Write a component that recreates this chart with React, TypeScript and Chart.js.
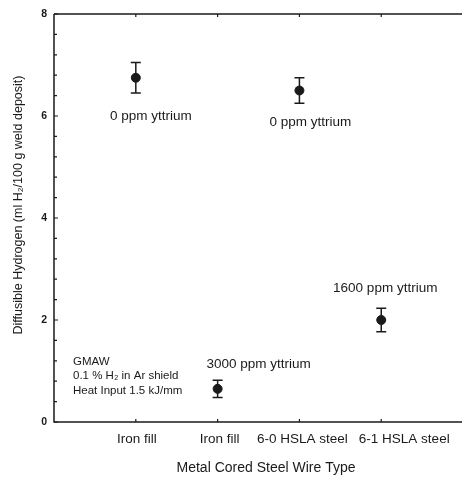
import { useEffect, useRef } from "react";
import { Chart, registerables } from "chart.js";

Chart.register(...registerables);

// ---- data ----
const categories = ["Iron fill", "Iron fill", "6-0 HSLA steel", "6-1 HSLA steel"];
const hydrogen = [6.75, 0.65, 6.5, 2.0];
const hydrogenError = [0.3, 0.17, 0.25, 0.23];
const pointLabels = ["0 ppm yttrium", "3000 ppm yttrium", "0 ppm yttrium", "1600 ppm yttrium"];
const yTicks = [0, 2, 4, 6, 8];
const yMinorStep = 0.4;
const noteLines = ["GMAW", "0.1 % H\u2082 in Ar shield", "Heat Input 1.5 kJ/mm"];
const yTitle = "Diffusible Hydrogen (ml H\u2082/100 g weld deposit)";
const xTitle = "Metal Cored Steel Wire Type";
const X_MIN = 0;
const X_MAX = 4.92;

// ---- styles ----
const FONT = '"Liberation Sans", Arial, Helvetica, sans-serif';
const INK = "#1a1a1a";
const labelOffsets = [
  [15, 39],
  [41, -25],
  [11, 32],
  [4, -32],
];
const catLabelShift = [1, 2, 3, 23];

const decorPlugin = {
  id: "decor",
  beforeDatasetsDraw(chart: any) {
    const { ctx, chartArea, scales } = chart;
    const xs = scales.x;
    const ys = scales.y;
    ctx.save();
    ctx.strokeStyle = INK;
    ctx.lineWidth = 1.5;
    // frame
    ctx.beginPath();
    ctx.moveTo(chartArea.left, chartArea.top);
    ctx.lineTo(chartArea.left, chartArea.bottom);
    ctx.lineTo(chart.width, chartArea.bottom);
    ctx.moveTo(chartArea.left, chartArea.top);
    ctx.lineTo(chart.width, chartArea.top);
    ctx.stroke();
    // y ticks (inside)
    ctx.lineWidth = 1.2;
    ctx.beginPath();
    const n = Math.round((ys.max - ys.min) / yMinorStep);
    for (let i = 0; i <= n; i++) {
      const v = ys.min + i * yMinorStep;
      const py = ys.getPixelForValue(v);
      ctx.moveTo(chartArea.left, py);
      ctx.lineTo(chartArea.left + 3, py);
    }
    yTicks.forEach((v) => {
      const py = ys.getPixelForValue(v);
      ctx.moveTo(chartArea.left, py);
      ctx.lineTo(chartArea.left + 4, py);
    });
    // x ticks top and bottom (inside)
    categories.forEach((_, i) => {
      const px = xs.getPixelForValue(i + 1);
      ctx.moveTo(px, chartArea.bottom);
      ctx.lineTo(px, chartArea.bottom - 3);
      ctx.moveTo(px, chartArea.top);
      ctx.lineTo(px, chartArea.top + 3);
    });
    ctx.stroke();

    // error bars
    ctx.lineWidth = 1.5;
    ctx.beginPath();
    hydrogen.forEach((v, i) => {
      const px = xs.getPixelForValue(i + 1);
      const top = ys.getPixelForValue(v + hydrogenError[i]);
      const bot = ys.getPixelForValue(v - hydrogenError[i]);
      ctx.moveTo(px, top);
      ctx.lineTo(px, bot);
      ctx.moveTo(px - 5, top);
      ctx.lineTo(px + 5, top);
      ctx.moveTo(px - 5, bot);
      ctx.lineTo(px + 5, bot);
    });
    ctx.stroke();
    ctx.restore();
  },
  afterDraw(chart: any) {
    const { ctx, chartArea, scales } = chart;
    const xs = scales.x;
    const ys = scales.y;
    ctx.save();
    ctx.fillStyle = INK;
    ctx.textBaseline = "middle";
    ctx.textAlign = "center";
    // category labels
    ctx.font = `13.5px ${FONT}`;
    categories.forEach((t, i) => {
      ctx.fillText(t, xs.getPixelForValue(i + 1) + catLabelShift[i], chartArea.bottom + 17);
    });
    // point labels
    pointLabels.forEach((t, i) => {
      const px = xs.getPixelForValue(i + 1) + labelOffsets[i][0];
      const py = ys.getPixelForValue(hydrogen[i]) + labelOffsets[i][1];
      ctx.fillText(t, px, py);
    });
    // x title
    ctx.font = `14px ${FONT}`;
    ctx.fillText(xTitle, chartArea.left + 212, chartArea.bottom + 46);
    // note
    ctx.textAlign = "left";
    ctx.font = `11.5px ${FONT}`;
    const noteY = [-60, -46, -31];
    noteLines.forEach((t, i) => {
      ctx.fillText(t, chartArea.left + 19, chartArea.bottom + noteY[i]);
    });
    // y title
    ctx.translate(19, 205);
    ctx.rotate(-Math.PI / 2);
    ctx.textAlign = "center";
    ctx.font = `12.5px ${FONT}`;
    ctx.fillText(yTitle, 0, 0);
    ctx.restore();
  },
};

export default function App() {
  const ref = useRef<HTMLCanvasElement>(null);
  useEffect(() => {
    if (!ref.current) return;
    const chart = new Chart(ref.current, {
      type: "scatter",
      data: {
        datasets: [
          {
            data: hydrogen.map((v, i) => ({ x: i + 1, y: v })),
            backgroundColor: INK,
            borderColor: INK,
            pointRadius: 4.5,
            pointHoverRadius: 4.5,
            showLine: false,
          },
        ],
      },
      options: {
        animation: false,
        responsive: false,
        devicePixelRatio: 1,
        layout: { padding: { top: 14, left: 0, right: 0, bottom: 0 } },
        plugins: { legend: { display: false }, tooltip: { enabled: false } },
        scales: {
          x: {
            type: "linear",
            min: X_MIN,
            max: X_MAX,
            bounds: "data",
            grid: { display: false, drawTicks: false },
            border: { display: false },
            afterBuildTicks: (s: any) => {
              s.ticks = categories.map((_, i) => ({ value: i + 1 }));
            },
            afterFit: (s: any) => {
              s.height = 57;
              s.paddingLeft = 0;
              s.paddingRight = 0;
            },
            ticks: { display: false },
            title: { display: false },
          },
          y: {
            type: "linear",
            min: 0,
            max: 8,
            grid: { display: false, drawTicks: false },
            border: { display: false },
            afterBuildTicks: (s: any) => {
              s.ticks = yTicks.map((v) => ({ value: v }));
            },
            afterFit: (s: any) => {
              s.width = 54;
            },
            ticks: {
              padding: 7,
              color: INK,
              font: { family: FONT, size: 10.5, weight: "bold" },
              callback: (v: any) => String(v),
            },
          },
        },
      },
      plugins: [decorPlugin],
    });
    return () => chart.destroy();
  }, []);
  return (
    <div
      style={{
        position: "fixed",
        left: 0,
        top: 0,
        width: 462,
        height: 479,
        background: "#fff",
      }}
    >
      <canvas ref={ref} width={462} height={479} style={{ width: 462, height: 479 }} />
    </div>
  );
}
